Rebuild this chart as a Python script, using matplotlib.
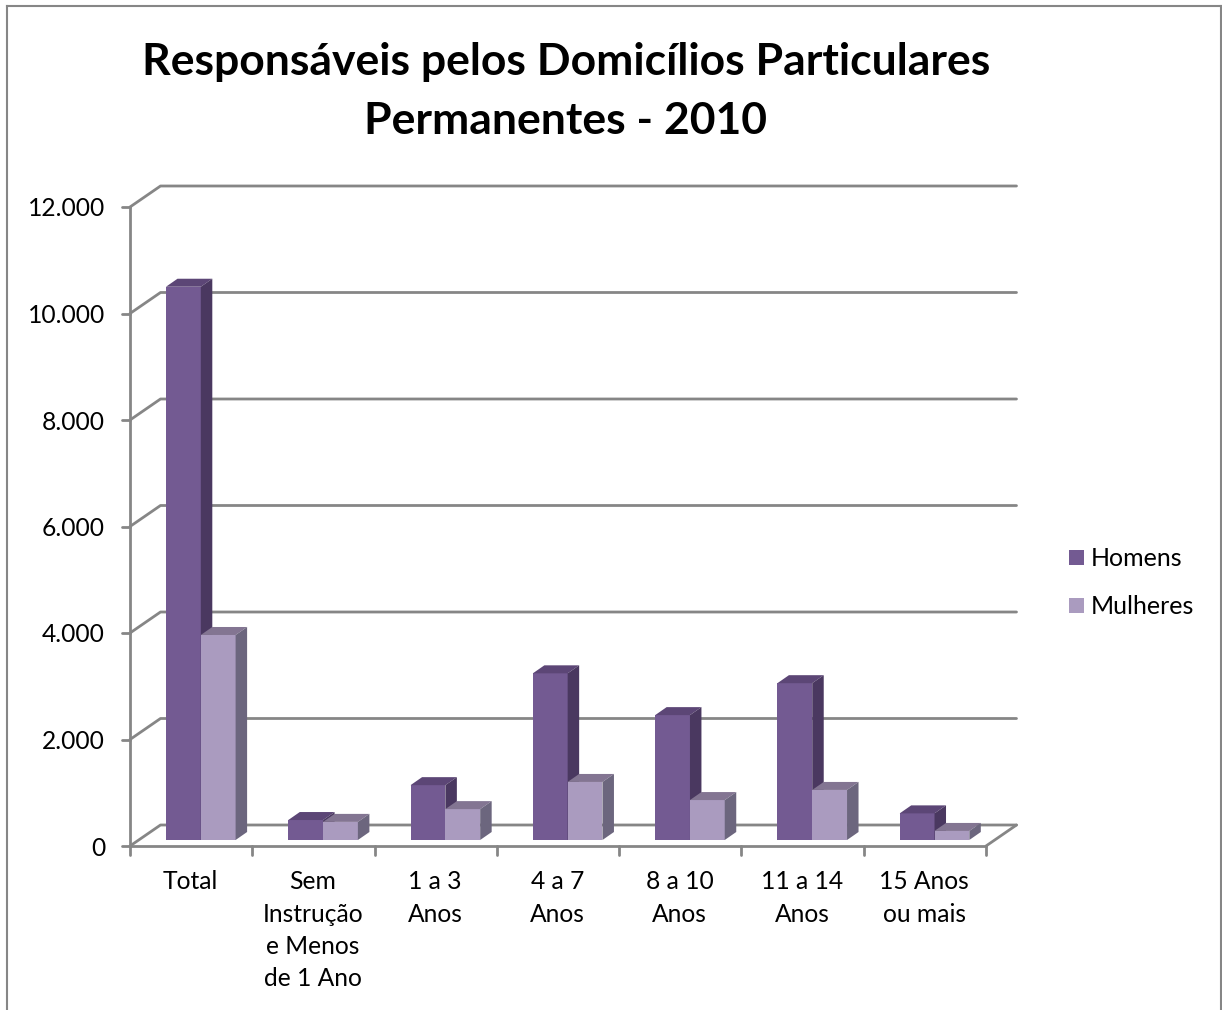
import matplotlib
matplotlib.use("Agg")
import matplotlib.pyplot as plt
from matplotlib.patches import Polygon, Rectangle

title_lines = ["Responsáveis pelos Domicílios Particulares", "Permanentes - 2010"]
categories = ["Total", "Sem\nInstrução\ne Menos\nde 1 Ano", "1 a 3\nAnos", "4 a 7\nAnos",
              "8 a 10\nAnos", "11 a 14\nAnos", "15 Anos\nou mais"]
homens = [10390, 375, 1030, 3130, 2345, 2945, 500]
mulheres = [3850, 340, 580, 1090, 750, 940, 170]
yticks = [0, 2000, 4000, 6000, 8000, 10000, 12000]
ylabels = ["0", "2.000", "4.000", "6.000", "8.000", "10.000", "12.000"]
series_names = ["Homens", "Mulheres"]

W, H = 1222, 1010
plt.rcParams['font.family'] = ['Lato', 'DejaVu Sans']
fig = plt.figure(figsize=(W/100, H/100), dpi=100, facecolor='white')

# frame of the chart area (runs off the bottom of the picture)
for xs, ys in (([7.5, 7.5], [6, H]), ([7.5, 1220.5], [6, 6]), ([1220.5, 1220.5], [6, H])):
    fig.add_artist(plt.Line2D([x/W for x in xs], [1-y/H for y in ys], color='#868686', lw=1.5))

L, R, T, B = 130, 986, 207, 846
ax = fig.add_axes([L/W, 1-B/H, (R-L)/W, (B-T)/H])
ax.set_xlim(0, 7)
ax.set_ylim(0, 12000)
ax.axis('off')

pxx = 7/(R-L)
pxy = 12000/(B-T)
GDX, GDY = 30.5*pxx, 21*pxy      # depth of the floor/back wall
BDX, BDY = 11.5*pxx, 8*pxy       # depth of a bar
BASE = 6*pxy
BW = 34.8*pxx
OFF = 36*pxx
GRID = '#868686'
lkw = dict(color=GRID, lw=2, clip_on=False, solid_capstyle='round', zorder=1)

for v in yticks:
    ax.plot([0, GDX, 7+GDX], [v, v+GDY, v+GDY], **lkw)
    ax.plot([-8*pxx, 0], [v, v], **lkw)
ax.plot([0, 0], [0, 12000], **lkw)
ax.plot([0, 7], [0, 0], **lkw)
ax.plot([7, 7+GDX], [0, GDY], **lkw)
for i in range(8):
    ax.plot([i, i], [0, -9*pxy], **lkw)

styles = [dict(front='#735A92', top='#5C4676', side='#4A3860'),
          dict(front='#AA9BBF', top='#837592', side='#6C667E')]

def bar3d(x, v, st, z):
    ax.bar(x, v, BW, bottom=BASE, align='edge', color=st['front'], zorder=z, clip_on=False, lw=0)
    top = BASE+v
    ax.add_patch(Polygon([(x, top), (x+BDX, top+BDY), (x+BW+BDX, top+BDY), (x+BW, top)],
                         fc=st['top'], lw=0, zorder=z, clip_on=False))
    ax.add_patch(Polygon([(x+BW, BASE), (x+BW+BDX, BASE+BDY), (x+BW+BDX, top+BDY), (x+BW, top)],
                         fc=st['side'], lw=0, zorder=z, clip_on=False))

for i in range(len(categories)):
    bar3d(i+OFF, homens[i], styles[0], 3+i)
    bar3d(i+OFF+BW, mulheres[i], styles[1], 3.5+i)

fs = 17.7
for v, s in zip(yticks, ylabels):
    ax.text(-25*pxx, v-2*pxy, s, ha='right', va='center', fontsize=fs, color='black', clip_on=False)
for i, c in enumerate(categories):
    ax.text(i+0.495, -24*pxy, c, ha='center', va='top', fontsize=fs, color='black',
            linespacing=1.5, clip_on=False)

for y, line in zip((62, 121), title_lines):
    fig.text(566/W, 1-y/H, line, ha='center', va='center', fontsize=32, fontweight='bold',
             color='black')

for y, st, name in zip((558, 606), styles, series_names):
    fig.add_artist(Rectangle((1069/W, 1-(y-1+7.5)/H), 15/W, 15/H, fc=st['front'], lw=0,
                             transform=fig.transFigure))
    fig.text(1091/W, 1-y/H, name, ha='left', va='center', fontsize=fs+0.3, color='black')

fig.savefig('out.png', dpi=100)
